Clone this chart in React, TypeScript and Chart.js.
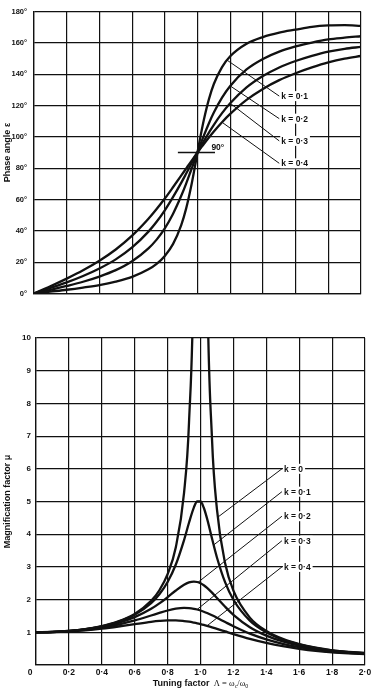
import React, { useEffect, useRef } from 'react';
import { Chart, registerables } from 'chart.js';

Chart.register(...registerables);

// ---------- data ----------
const LAMBDA = [0, 0.1, 0.2, 0.3, 0.4, 0.5, 0.6, 0.7, 0.75, 0.8, 0.85, 0.9, 0.93, 0.96, 0.98, 1.0, 1.02, 1.04, 1.07, 1.1, 1.15, 1.2, 1.3, 1.4, 1.5, 1.6, 1.7, 1.8, 1.9, 2.0];

// Phase angle ε (degrees)
const PHASE_K01 = [0, 1.2, 2.4, 3.8, 5.4, 7.6, 10.6, 15.4, 18.9, 24.0, 31.5, 43.5, 54.0, 67.8, 78.6, 90, 101.2, 111.4, 124.1, 133.7, 144.5, 151.4, 159.4, 163.7, 166.5, 168.4, 170.2, 171.1, 171.3, 170.8];
const PHASE_K02 = [0, 2.3, 4.8, 7.5, 10.8, 14.9, 20.6, 28.8, 34.4, 41.6, 50.8, 62.2, 70.0, 78.5, 84.2, 90, 95.7, 101.1, 108.7, 115.5, 125.0, 132.5, 143.0, 149.7, 154.4, 157.7, 160.2, 162.2, 163.3, 164.2];
const PHASE_K03 = [0, 3.5, 7.1, 11.2, 16.0, 21.8, 29.4, 39.5, 45.8, 53.1, 61.5, 70.6, 76.4, 82.3, 86.2, 90, 93.8, 97.5, 102.7, 107.7, 115.1, 121.4, 131.5, 138.8, 144.3, 148.4, 151.7, 154.4, 156.2, 157.4];
const PHASE_K04 = [0, 4.6, 9.5, 14.8, 20.9, 28.1, 36.9, 47.7, 53.9, 60.6, 67.8, 75.2, 79.7, 84.2, 87.1, 90, 92.8, 95.6, 99.6, 103.4, 109.3, 114.6, 123.6, 130.6, 136.2, 140.6, 144.3, 147.5, 149.9, 151.6];

// Magnification factor μ
const MAG_K0 = [1, 1.010, 1.042, 1.099, 1.190, 1.333, 1.563, 1.961, 2.286, 2.778, 3.604, 5.263, 7.402, 12.76, 25.25, null, 24.75, 12.25, 6.90, 4.762, 3.101, 2.273, 1.449, 1.042, 0.80, 0.641, 0.529, 0.45, 0.40, 0.37];
const MAG_K01 = [1, 1.010, 1.041, 1.097, 1.185, 1.322, 1.536, 1.891, 2.162, 2.538, 3.073, 3.821, 4.35, 4.822, 5.0, 5.0, 4.809, 4.476, 3.869, 3.288, 2.525, 1.995, 1.356, 1.0, 0.778, 0.628, 0.521, 0.443, 0.395, 0.365];
const MAG_K02 = [1, 1.009, 1.038, 1.090, 1.170, 1.288, 1.463, 1.719, 1.885, 2.076, 2.279, 2.457, 2.527, 2.552, 2.538, 2.5, 2.439, 2.359, 2.213, 2.051, 1.780, 1.536, 1.157, 0.900, 0.721, 0.593, 0.498, 0.428, 0.385, 0.355];
const MAG_K03 = [1, 1.008, 1.034, 1.078, 1.145, 1.238, 1.362, 1.514, 1.593, 1.667, 1.722, 1.747, 1.742, 1.720, 1.697, 1.667, 1.630, 1.589, 1.519, 1.444, 1.313, 1.185, 0.960, 0.784, 0.649, 0.546, 0.466, 0.405, 0.37, 0.345];
const MAG_K04 = [1, 1.007, 1.028, 1.063, 1.113, 1.177, 1.25, 1.320, 1.347, 1.362, 1.362, 1.343, 1.323, 1.295, 1.274, 1.25, 1.224, 1.196, 1.152, 1.105, 1.026, 0.947, 0.801, 0.678, 0.577, 0.496, 0.43, 0.385, 0.355, 0.335];

const PHASE_LABELS = ['k = 0·1', 'k = 0·2', 'k = 0·3', 'k = 0·4'];
const MAG_LABELS = ['k = 0', 'k = 0·1', 'k = 0·2', 'k = 0·3', 'k = 0·4'];

// leader lines: curve point -> label point, in data units
const PHASE_LEADER_FROM: [number, number][] = [[1.18, 149], [1.2, 132.5], [1.2, 121.4], [1.15, 109.3]];
const PHASE_LEADER_TO: [number, number][] = [[1.5, 126], [1.5, 111.6], [1.5, 97.4], [1.5, 83.1]];
const MAG_LEADER_FROM: [number, number][] = [[1.105, 4.52], [1.08, 3.67], [0.985, 2.53], [0.98, 1.7], [1.04, 1.2]];
const MAG_LEADER_TO: [number, number][] = [[1.495, 6.0], [1.495, 5.3], [1.495, 4.55], [1.495, 3.8], [1.495, 3.0]];

// ---------- styles ----------
const SANS = '"Liberation Sans", Arial, Helvetica, sans-serif';
const SERIF = '"Liberation Serif", "Times New Roman", serif';
const INK = '#111111';
const GRID_W = 1.2;

const fmtDot = (v: number) => v.toFixed(1).replace('.', '·');
const series = (ys: (number | null)[]) => LAMBDA.map((x, i) => ({ x, y: ys[i] }));
const lineDs = (ys: (number | null)[]) => ({
  data: series(ys),
  borderColor: INK,
  borderWidth: 2.3,
  pointRadius: 0,
  fill: false,
  cubicInterpolationMode: 'monotone' as const,
});

type AnnotCfg = {
  from: [number, number][];
  to: [number, number][];
  labels: string[];
  extra?: (chart: any) => void;
};

function makeAnnot(cfg: AnnotCfg) {
  return {
    id: 'annot',
    afterDatasetsDraw(chart: any) {
      const { ctx } = chart;
      const xs = chart.scales.x;
      const ys = chart.scales.y;
      ctx.save();
      ctx.lineWidth = 1;
      ctx.strokeStyle = INK;
      ctx.font = `bold 8.5px ${SANS}`;
      ctx.textAlign = 'left';
      ctx.textBaseline = 'middle';
      cfg.labels.forEach((text, i) => {
        const x1 = xs.getPixelForValue(cfg.from[i][0]);
        const y1 = ys.getPixelForValue(cfg.from[i][1]);
        const x2 = xs.getPixelForValue(cfg.to[i][0]);
        const y2 = ys.getPixelForValue(cfg.to[i][1]);
        ctx.beginPath();
        ctx.moveTo(x1, y1);
        ctx.lineTo(x2, y2);
        ctx.stroke();
        const w = ctx.measureText(text).width;
        ctx.fillStyle = '#fff';
        ctx.fillRect(x2 + 1, y2 - 5, w + 3, 10);
        ctx.fillStyle = INK;
        ctx.fillText(text, x2 + 2, y2 + 0.5);
      });
      if (cfg.extra) cfg.extra(chart);
      ctx.restore();
    },
  };
}

const axisFont = { family: SANS, size: 7.5, weight: 'bold' as const };
const titleFont = { family: SANS, size: 9, weight: 'bold' as const };
const gridOpts = { color: INK, lineWidth: GRID_W, drawTicks: false };
const borderOpts = { color: INK, width: 1.3 };

function phaseConfig(): any {
  return {
    type: 'line',
    data: { datasets: [PHASE_K01, PHASE_K02, PHASE_K03, PHASE_K04].map(lineDs) },
    options: {
      animation: false,
      responsive: false,
      devicePixelRatio: 1,
      events: [],
      layout: { padding: { left: 0, right: 14, top: 5, bottom: 6 } },
      plugins: { legend: { display: false }, tooltip: { enabled: false } },
      scales: {
        x: {
          type: 'linear', min: 0, max: 2,
          afterFit: (s: any) => { s.height = 0; },
          ticks: { display: false, stepSize: 0.2 },
          grid: gridOpts, border: borderOpts,
        },
        y: {
          type: 'linear', min: 0, max: 180,
          afterFit: (s: any) => { s.width = 34; },
          ticks: { stepSize: 20, padding: 7, color: INK, font: axisFont, callback: (v: any) => `${v}°` },
          grid: gridOpts, border: borderOpts,
          title: { display: true, text: 'Phase angle ε', color: INK, font: titleFont, padding: { top: 2, bottom: 0 } },
        },
      },
    },
    plugins: [
      makeAnnot({
        from: PHASE_LEADER_FROM,
        to: PHASE_LEADER_TO,
        labels: PHASE_LABELS,
        extra: (chart: any) => {
          const { ctx } = chart;
          const xs = chart.scales.x;
          const ys = chart.scales.y;
          const yy = ys.getPixelForValue(90);
          ctx.lineWidth = 1.4;
          ctx.beginPath();
          ctx.moveTo(xs.getPixelForValue(0.88), yy);
          ctx.lineTo(xs.getPixelForValue(1.107), yy);
          ctx.stroke();
          ctx.font = `bold 8.5px ${SANS}`;
          ctx.textBaseline = 'bottom';
          ctx.fillStyle = INK;
          ctx.fillText('90°', xs.getPixelForValue(1.085), yy - 1);
        },
      }),
    ],
  };
}

function magConfig(): any {
  return {
    type: 'line',
    data: { datasets: [MAG_K0, MAG_K01, MAG_K02, MAG_K03, MAG_K04].map(lineDs) },
    options: {
      animation: false,
      responsive: false,
      devicePixelRatio: 1,
      events: [],
      layout: { padding: { left: 0, right: 10, top: 18, bottom: 0 } },
      plugins: { legend: { display: false }, tooltip: { enabled: false } },
      scales: {
        x: {
          type: 'linear', min: 0, max: 2,
          afterFit: (s: any) => { s.height = 26; },
          ticks: {
            stepSize: 0.2, padding: 3, color: INK, font: { ...axisFont, size: 8.5 }, maxRotation: 0, autoSkip: false,
            callback: (v: any) => (Number(v) === 0 ? '' : fmtDot(Number(v))),
          },
          grid: gridOpts, border: borderOpts,
        },
        y: {
          type: 'linear', min: 0, max: 10,
          afterFit: (s: any) => { s.width = 36; },
          ticks: { stepSize: 1, padding: 5, color: INK, font: { ...axisFont, size: 8 }, callback: (v: any) => (Number(v) === 0 ? '' : String(v)) },
          grid: gridOpts, border: borderOpts,
          title: { display: true, text: 'Magnification factor μ', color: INK, font: titleFont, padding: { top: 2, bottom: 0 } },
        },
      },
    },
    plugins: [
      makeAnnot({
        from: MAG_LEADER_FROM,
        to: MAG_LEADER_TO,
        labels: MAG_LABELS,
        extra: (chart: any) => {
          const { ctx, chartArea } = chart;
          ctx.fillStyle = INK;
          // origin label
          ctx.font = `bold 8.5px ${SANS}`;
          ctx.textAlign = 'center';
          ctx.textBaseline = 'middle';
          ctx.fillText('0', chartArea.left - 6, chartArea.bottom + 8);
          // x-axis title with sub-scripts
          const segs = [
            { t: 'Tuning factor', f: `bold 9px ${SANS}`, dy: 0 },
            { t: '  Λ = ω', f: `8.5px ${SERIF}`, dy: 0 },
            { t: 'c', f: `6px ${SERIF}`, dy: 2 },
            { t: '/ω', f: `8.5px ${SERIF}`, dy: 0 },
            { t: '0', f: `6px ${SERIF}`, dy: 2 },
          ];
          let total = 0;
          const widths = segs.map((s) => { ctx.font = s.f; const w = ctx.measureText(s.t).width; total += w; return w; });
          let x = (chartArea.left + chartArea.right) / 2 - total / 2;
          const y = chartArea.bottom + 19;
          ctx.textAlign = 'left';
          ctx.textBaseline = 'middle';
          segs.forEach((s, i) => {
            ctx.font = s.f;
            ctx.fillText(s.t, x, y + s.dy);
            x += widths[i];
          });
        },
      }),
    ],
  };
}

function ChartCanvas({ make, top, height }: { make: () => any; top: number; height: number }) {
  const ref = useRef<HTMLCanvasElement>(null);
  useEffect(() => {
    const chart = new Chart(ref.current as HTMLCanvasElement, make());
    return () => chart.destroy();
  }, [make]);
  return (
    <canvas
      ref={ref}
      width={375}
      height={height}
      style={{ position: 'absolute', left: 0, top, width: 375, height, display: 'block' }}
    />
  );
}

export default function App() {
  return (
    <div style={{ position: 'fixed', left: 0, top: 0, width: 375, height: 691, background: '#fff', overflow: 'hidden' }}>
      <ChartCanvas make={phaseConfig} top={0} height={305} />
      <ChartCanvas make={magConfig} top={320} height={371} />
    </div>
  );
}
